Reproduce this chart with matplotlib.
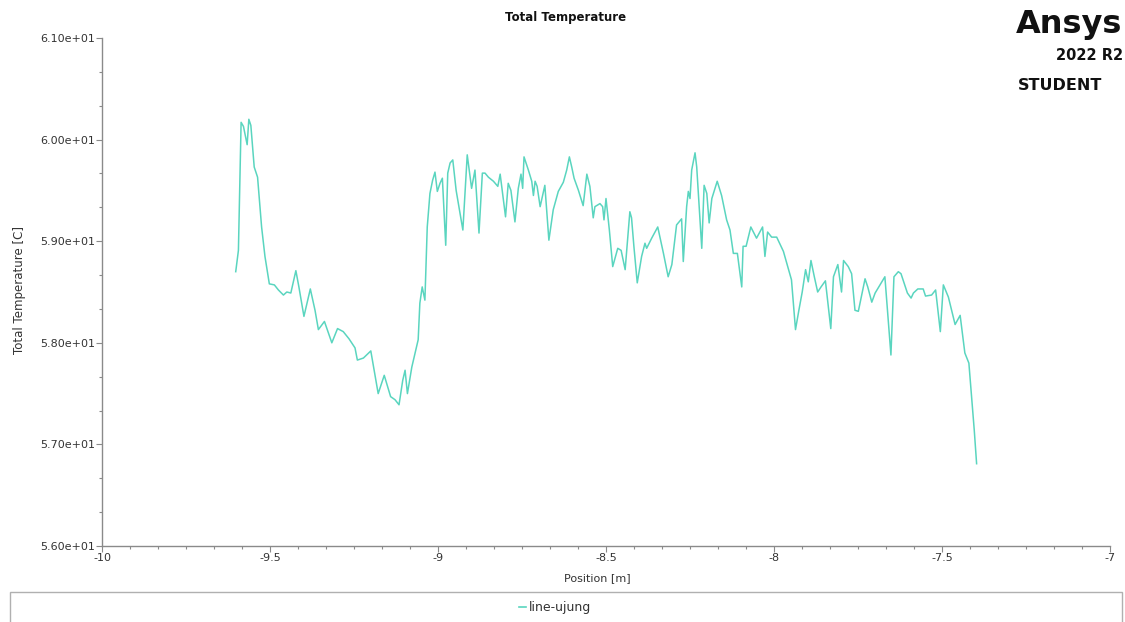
import matplotlib
matplotlib.use("Agg")
import matplotlib.pyplot as plt
from matplotlib.ticker import MultipleLocator
from matplotlib.patches import Rectangle

# ---- data ----
position = [
    -9.602, -9.594, -9.586, -9.579, -9.568, -9.563, -9.557, -9.547, -9.537, -9.525,
    -9.515, -9.502, -9.487, -9.475, -9.460, -9.450, -9.438, -9.423, -9.414, -9.399,
    -9.380, -9.366, -9.356, -9.338, -9.316, -9.299, -9.282, -9.265, -9.247, -9.240,
    -9.222, -9.200, -9.190, -9.178, -9.160, -9.141, -9.128, -9.116, -9.105, -9.098,
    -9.091, -9.078, -9.068, -9.059, -9.054, -9.047, -9.039, -9.032, -9.024, -9.016,
    -9.009, -9.002, -8.994, -8.987, -8.977, -8.971, -8.964, -8.956, -8.946, -8.926,
    -8.913, -8.900, -8.890, -8.878, -8.868, -8.860, -8.850, -8.835, -8.822, -8.815,
    -8.809, -8.799, -8.791, -8.783, -8.771, -8.761, -8.753, -8.748, -8.744, -8.731,
    -8.721, -8.716, -8.711, -8.705, -8.696, -8.682, -8.670, -8.657, -8.642, -8.627,
    -8.617, -8.609, -8.602, -8.595, -8.582, -8.568, -8.557, -8.548, -8.538, -8.533,
    -8.518, -8.510, -8.506, -8.500, -8.490, -8.480, -8.465, -8.455, -8.443, -8.429,
    -8.424, -8.417, -8.407, -8.394, -8.384, -8.379, -8.364, -8.346, -8.329, -8.315,
    -8.304, -8.290, -8.275, -8.270, -8.260, -8.255, -8.250, -8.245, -8.235, -8.230,
    -8.215, -8.208, -8.200, -8.193, -8.185, -8.169, -8.156, -8.141, -8.131, -8.121,
    -8.109, -8.096, -8.092, -8.083, -8.069, -8.052, -8.034, -8.027, -8.019, -8.007,
    -7.992, -7.972, -7.955, -7.948, -7.936, -7.926, -7.916, -7.906, -7.898, -7.890,
    -7.880, -7.870, -7.860, -7.847, -7.831, -7.823, -7.810, -7.799, -7.793, -7.779,
    -7.769, -7.759, -7.749, -7.729, -7.721, -7.709, -7.699, -7.670, -7.652, -7.643,
    -7.630, -7.622, -7.603, -7.592, -7.585, -7.572, -7.556, -7.549, -7.531, -7.519,
    -7.505, -7.496, -7.481, -7.461, -7.446, -7.432, -7.420, -7.412, -7.404, -7.397,
]
total_temperature = [
    58.70, 58.91, 60.17, 60.13, 59.95, 60.20, 60.14, 59.73, 59.63, 59.14,
    58.85, 58.58, 58.57, 58.52, 58.47, 58.50, 58.49, 58.71, 58.55, 58.26,
    58.53, 58.32, 58.13, 58.21, 58.00, 58.14, 58.11, 58.04, 57.95, 57.83,
    57.85, 57.92, 57.73, 57.50, 57.68, 57.47, 57.44, 57.39, 57.63, 57.73,
    57.50, 57.76, 57.90, 58.03, 58.39, 58.55, 58.42, 59.14, 59.47, 59.60,
    59.68, 59.49, 59.57, 59.62, 58.96, 59.67, 59.77, 59.80, 59.50, 59.11,
    59.85, 59.52, 59.70, 59.08, 59.67, 59.67, 59.63, 59.59, 59.54, 59.66,
    59.50, 59.24, 59.57, 59.50, 59.19, 59.52, 59.66, 59.52, 59.83, 59.70,
    59.59, 59.45, 59.59, 59.54, 59.34, 59.55, 59.01, 59.31, 59.49, 59.58,
    59.70, 59.83, 59.73, 59.62, 59.50, 59.35, 59.66, 59.54, 59.23, 59.34,
    59.37, 59.34, 59.21, 59.42, 59.11, 58.75, 58.93, 58.91, 58.72, 59.29,
    59.23, 58.95, 58.59, 58.85, 58.98, 58.93, 59.03, 59.14, 58.88, 58.65,
    58.77, 59.16, 59.22, 58.80, 59.34, 59.49, 59.42, 59.70, 59.87, 59.73,
    58.93, 59.55, 59.47, 59.18, 59.42, 59.59, 59.45, 59.21, 59.11, 58.88,
    58.88, 58.55, 58.95, 58.95, 59.14, 59.03, 59.14, 58.85, 59.09, 59.04,
    59.04, 58.90, 58.70, 58.62, 58.13, 58.32, 58.50, 58.72, 58.60, 58.81,
    58.65, 58.50, 58.55, 58.61, 58.14, 58.65, 58.77, 58.50, 58.81, 58.75,
    58.68, 58.32, 58.31, 58.63, 58.55, 58.40, 58.49, 58.65, 57.88, 58.65,
    58.70, 58.68, 58.49, 58.44, 58.49, 58.53, 58.53, 58.46, 58.47, 58.52,
    58.11, 58.57, 58.45, 58.18, 58.27, 57.90, 57.80, 57.47, 57.14, 56.81,
]
x_ticks = [-10, -9.5, -9, -8.5, -8, -7.5, -7]
x_tick_labels = ["-10", "-9.5", "-9", "-8.5", "-8", "-7.5", "-7"]
y_ticks = [56.0, 57.0, 58.0, 59.0, 60.0, 61.0]
y_tick_labels = ["5.60e+01", "5.70e+01", "5.80e+01", "5.90e+01", "6.00e+01", "6.10e+01"]
series_name = "line-ujung"

W, H = 1125, 622
plt.rcParams['font.family'] = ['DejaVu Sans']
fig = plt.figure(figsize=(W / 100, H / 100), dpi=100)

ax = fig.add_axes([102 / W, 1 - 546 / H, (1110 - 102) / W, (546 - 38) / H])
line_color = '#5ad5bf'
ax.plot(position, total_temperature, color=line_color, lw=1.1)

ax.set_xlim(-10, -7)
ax.set_ylim(56.0, 61.0)
ax.set_xticks(x_ticks)
ax.set_xticklabels(x_tick_labels)
ax.set_yticks(y_ticks)
ax.set_yticklabels(y_tick_labels)
ax.xaxis.set_minor_locator(MultipleLocator(0.5 / 6))
ax.yaxis.set_minor_locator(MultipleLocator(1.0 / 3))

for s in ['top', 'right']:
    ax.spines[s].set_visible(False)
for s in ['left', 'bottom']:
    ax.spines[s].set_color('#8a8a8a')
    ax.spines[s].set_linewidth(1.0)
ax.tick_params(which='major', length=4, width=0.8, color='#8a8a8a',
               labelsize=8, labelcolor='#333333', pad=1)
ax.tick_params(which='minor', length=2, width=0.8, color='#8a8a8a')

# labels and title
fig.text(566 / W, 1 - 18 / H, "Total Temperature", ha='center', va='center',
         fontsize=8.5, fontweight='bold', color='#111111')
fig.text(597 / W, 1 - 578 / H, "Position [m]", ha='center', va='center',
         fontsize=8, color='#333333')
fig.text(20 / W, 1 - 290 / H, "Total Temperature [C]", ha='center', va='center',
         rotation=90, fontsize=8.5, color='#333333')

# legend box
fig.patches.append(Rectangle((10 / W, -0.02), (1122 - 10) / W, (1 - 592 / H) + 0.02,
                             transform=fig.transFigure, fill=False,
                             edgecolor='#b0b0b0', lw=1.0))
fig.lines.append(plt.Line2D([519 / W, 526 / W], [1 - 607 / H, 1 - 607 / H],
                            transform=fig.transFigure, color=line_color, lw=1.2))
fig.text(529 / W, 1 - 607 / H, series_name, ha='left', va='center',
         fontsize=9, color='#333333')

# logo
fig.text(1122 / W, 1 - 25 / H, "Ansys", ha='right', va='center',
         fontsize=23, fontweight='bold', color='#111111')
fig.text(1123 / W, 1 - 56 / H, "2022 R2", ha='right', va='center',
         fontsize=10.5, fontweight='bold', color='#111111')
fig.text(1018 / W, 1 - 85 / H, "STUDENT", ha='left', va='center',
         fontsize=11.5, fontweight='bold', color='#111111')

fig.savefig("out.png", dpi=100)
